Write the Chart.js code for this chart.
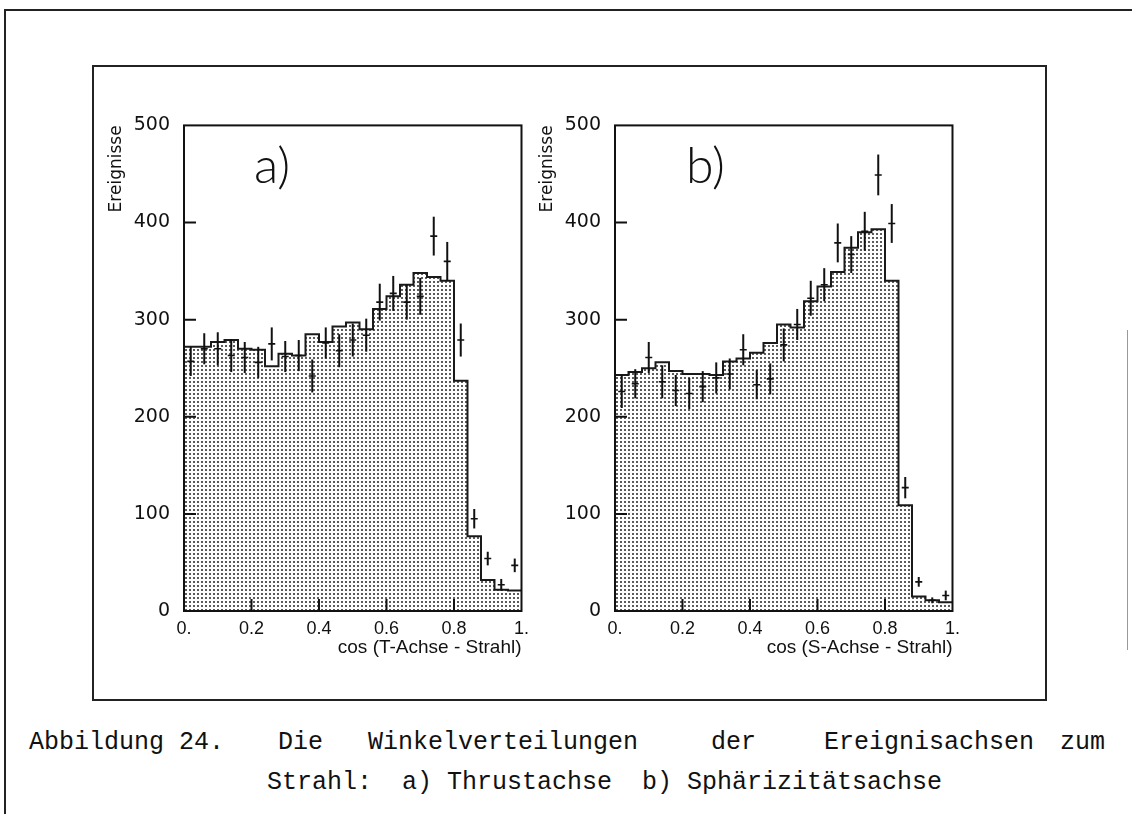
<!DOCTYPE html>
<html>
<head>
<meta charset="utf-8">
<script src="https://cdn.jsdelivr.net/npm/chart.js@4.4.1/dist/chart.umd.min.js"></script>
<style>
  body { margin: 0; background: #fff; width: 1132px; height: 814px; overflow: hidden; position: relative; }
  .abs { position: absolute; }
  #outerTop { left: 4px; top: 9px; width: 1128px; border-top: 2px solid #222; }
  #outerLeft { left: 4px; top: 9px; height: 805px; border-left: 2px solid #222; }
  #outerRight { left: 1127px; top: 330px; height: 320px; border-left: 1px solid #999; }
  #figBox { left: 92px; top: 65px; width: 955px; height: 636px; border: 2px solid #222; box-sizing: border-box; }
  canvas { position: absolute; }
  #chartA { left: 96px; top: 100px; }
  #chartB { left: 527px; top: 100px; }
  .panel { font-family: 'Lato', sans-serif; font-weight: 300; font-size: 50px; line-height: 50px; color: #111; z-index: 2; }
  .cap { font-family: 'Liberation Mono', monospace; font-size: 25px; line-height: 30px; color: #111; white-space: pre; }
</style>
</head>
<body>
<div class="abs" id="outerTop"></div>
<div class="abs" id="outerLeft"></div>
<div class="abs" id="outerRight"></div>
<div class="abs" id="figBox"></div>

<canvas id="chartA" width="440" height="570"></canvas>
<canvas id="chartB" width="440" height="570"></canvas>

<div class="abs panel" style="left:254px; top:139px;">a)</div>
<div class="abs panel" style="left:686px; top:139px;">b)</div>

<div class="abs cap" style="left:29px; top:728px;">Abbildung 24.</div>
<div class="abs cap" style="left:278px; top:728px;">Die</div>
<div class="abs cap" style="left:368px; top:728px;">Winkelverteilungen</div>
<div class="abs cap" style="left:711px; top:728px;">der</div>
<div class="abs cap" style="left:824px; top:728px;">Ereignisachsen</div>
<div class="abs cap" style="left:1060px; top:728px;">zum</div>
<div class="abs cap" style="left:267px; top:768px;">Strahl:  a) Thrustachse  b) Sphärizitätsachse</div>

<script>
// bins of cos(angle), width 0.04
const binEdges = [0, 0.04, 0.08, 0.12, 0.16, 0.2, 0.24, 0.28, 0.32, 0.36, 0.4, 0.44, 0.48,
                  0.52, 0.56, 0.6, 0.64, 0.68, 0.72, 0.76, 0.8, 0.84, 0.88, 0.92, 0.96, 1.0];
const binCenters = [0.02, 0.06, 0.1, 0.14, 0.18, 0.22, 0.26, 0.3, 0.34, 0.38, 0.42, 0.46, 0.5,
                    0.54, 0.58, 0.62, 0.66, 0.7, 0.74, 0.78, 0.82, 0.86, 0.9, 0.94, 0.98];
const xTickLabels = ['0.', '0.2', '0.4', '0.6', '0.8', '1.'];
const yTickLabels = ['0', '100', '200', '300', '400', '500'];

// a) Thrustachse
const mcA = [272, 272, 277, 279, 270, 269, 252, 265, 263, 285, 277, 293, 297,
             290, 311, 324, 336, 348, 344, 340, 237, 77, 32, 22, 21];
const dataA = [257, 270, 270, 263, 261, 256, 275, 262, 263, 242, 276, 268, 279,
               284, 318, 327, 318, 324, 386, 360, 279, 95, 54, 27, 47];
const errA = [15, 16, 17, 17, 16, 16, 17, 16, 16, 17, 16, 17, 17,
              17, 19, 18, 18, 19, 20, 20, 17, 10, 7, 6, 7];

// b) Sphaerizitaetsachse
const mcB = [243, 246, 250, 256, 247, 244, 244, 243, 257, 260, 266, 276, 295,
             292, 319, 334, 349, 374, 390, 393, 340, 109, 15, 11, 9];
const dataB = [226, 234, 261, 236, 227, 224, 231, 240, 244, 269, 233, 239, 274,
               295, 322, 336, 379, 367, 391, 449, 399, 127, 30, 11, 16];
const errB = [17, 15, 16, 17, 16, 16, 16, 16, 16, 16, 15, 16, 17,
              16, 18, 17, 20, 19, 20, 21, 20, 11, 5, 3, 5];

function makeStipple() {
    let c = document.createElement('canvas');
    c.width = 4;
    c.height = 4;
    let g = c.getContext('2d');
    g.fillStyle = '#5c5c5c';
    g.fillRect(1, 1, 2, 2);
    return g.createPattern(c, 'repeat');
}
const stipple = makeStipple();

// frame, inner tick marks and error bars
const decor = {
    id: 'decor',
    afterDatasetsDraw(chart) {
        const ctx = chart.ctx;
        const a = chart.chartArea;
        const x = chart.scales.x, y = chart.scales.y;
        ctx.save();
        ctx.strokeStyle = '#111';
        ctx.lineWidth = 2;
        chart.data.datasets.forEach(ds => {
            if (!ds.errors) return;
            ds.data.forEach((p, i) => {
                let px = x.getPixelForValue(p.x);
                ctx.beginPath();
                ctx.moveTo(px, y.getPixelForValue(p.y - ds.errors[i]));
                ctx.lineTo(px, y.getPixelForValue(p.y + ds.errors[i]));
                ctx.stroke();
            });
        });
        ctx.strokeRect(a.left, a.top, a.right - a.left, a.bottom - a.top);
        ctx.beginPath();
        y.ticks.forEach(t => {
            if (t.value > y.min && t.value < y.max) {
                let py = y.getPixelForValue(t.value);
                ctx.moveTo(a.left, py);
                ctx.lineTo(a.left + 12, py);
            }
        });
        x.ticks.forEach(t => {
            if (t.value > x.min + 1e-6 && t.value < x.max - 1e-6) {
                let px = x.getPixelForValue(t.value);
                ctx.moveTo(px, a.bottom);
                ctx.lineTo(px, a.bottom - 12);
            }
        });
        ctx.stroke();
        ctx.restore();
    }
};

function makeChart(id, mc, dat, err, xTitle, padRight) {
    let histPoints = [];
    for (let i = 0; i < binEdges.length; i++) {
        histPoints.push({ x: binEdges[i], y: mc[Math.min(i, mc.length - 1)] });
    }
    let dataPoints = [];
    for (let i = 0; i < binCenters.length; i++) {
        dataPoints.push({ x: binCenters[i], y: dat[i] });
    }
    return new Chart(document.getElementById(id), {
        type: 'line',
        data: {
            datasets: [{
                label: 'MC',
                data: histPoints,
                stepped: 'before',
                fill: 'origin',
                backgroundColor: stipple,
                borderColor: '#1a1a1a',
                borderWidth: 2,
                pointRadius: 0,
                order: 2
            },
            {
                label: 'Daten',
                data: dataPoints,
                errors: err,
                showLine: false,
                pointStyle: 'line',
                pointRadius: 3.5,
                pointBorderWidth: 1.6,
                borderColor: '#111',
                backgroundColor: '#111',
                order: 1
            }]
        },
        options: {
            responsive: false,
            animation: false,
            events: [],
            layout: { padding: { left: 0, top: 21, right: padRight, bottom: 0 } },
            plugins: { legend: { display: false }, tooltip: { enabled: false } },
            scales: {
                x: {
                    type: 'linear', min: 0, max: 1,
                    grid: { display: false, drawTicks: false },
                    border: { display: false },
                    ticks: {
                        stepSize: 0.2, padding: 7, color: '#111', maxRotation: 0,
                        font: { family: "'Liberation Sans Narrow', 'Liberation Sans', sans-serif", size: 18 },
                        callback: (v, i) => xTickLabels[i]
                    },
                    title: {
                        display: true, text: xTitle, align: 'end', color: '#111',
                        font: { family: "'Liberation Sans Narrow', 'Liberation Sans', sans-serif", size: 19 },
                        padding: { top: 0, bottom: 11 }
                    },
                    afterFit: s => { s.height = 59; }
                },
                y: {
                    min: 0, max: 500,
                    grid: { display: false, drawTicks: false },
                    border: { display: false },
                    ticks: {
                        stepSize: 100, padding: 14, color: '#111',
                        font: { family: "'DejaVu Sans', sans-serif", size: 19 },
                        callback: (v, i) => yTickLabels[i]
                    },
                    title: {
                        display: true, text: 'Ereignisse', align: 'end', color: '#111',
                        font: { family: "'DejaVu Sans', sans-serif", size: 17 },
                        padding: { top: 10, bottom: 0 }
                    },
                    afterFit: s => { s.width = 88; }
                }
            }
        },
        plugins: [decor]
    });
}

makeChart('chartA', mcA, dataA, errA, 'cos (T-Achse - Strahl)', 13);
makeChart('chartB', mcB, dataB, errB, 'cos (S-Achse - Strahl)', 12);
</script>
</body>
</html>
